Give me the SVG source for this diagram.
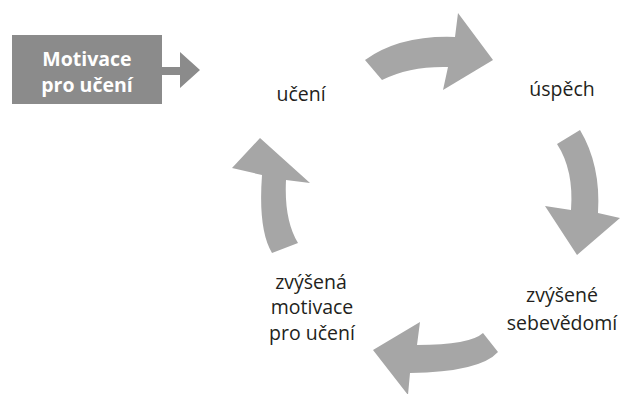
<svg xmlns="http://www.w3.org/2000/svg" width="621" height="394" viewBox="0 0 621 394">
<style>
.lbl{font-family:"Open Sans","Noto Sans","Liberation Sans",sans-serif;font-size:19.5px;fill:#231f20;text-anchor:middle}
.box{fill:#8b8b8b}
.boxtxt{font-family:"Open Sans","Noto Sans","Liberation Sans",sans-serif;font-size:19.5px;font-weight:bold;fill:#ffffff;text-anchor:middle}
.arr{fill:#a6a6a6}
.sarr{fill:#8b8b8b}
</style>
<rect width="621" height="394" fill="#ffffff"/>
<g id="motivace-box">
<rect class="box" x="12" y="35" width="150" height="69"/>
<text class="boxtxt" x="87" y="66">Motivace</text>
<text class="boxtxt" x="87" y="92">pro učení</text>
</g>
<g id="uceni"><text class="lbl" x="301" y="101">učení</text></g>
<g id="uspech"><text class="lbl" x="562" y="96">úspěch</text></g>
<g id="sebevedomi">
<text class="lbl" x="562" y="302">zvýšené</text>
<text class="lbl" x="562" y="330">sebevědomí</text>
</g>
<g id="motivace">
<text class="lbl" x="311" y="289">zvýšená</text>
<text class="lbl" x="312" y="314">motivace</text>
<text class="lbl" x="312" y="340">pro učení</text>
</g>
<g id="connectors">
<path class="sarr" d="M162,67 L180,67 L180,52 L200,70 L180,88 L180,75 L162,75 Z"/>
<path class="arr" d="M365,60 Q400,35 455,37 L458,13 L493,60 L443,90 L448,67 Q410,66 382,80 Z"/>
<path class="arr" d="M580,130 Q601,165 598,213 L620,218 L577,255 L545,206 L571,210 Q574,170 557,144 Z"/>
<path class="arr" d="M483,333 Q470,345 417,345 L420,322 L373,350 L408,395 L410,373 Q480,372 498,352 Z"/>
<path class="arr" d="M262,175 Q258,230 272,253 L298,243 Q284,220 286,180 L310,183 L260,138 L232,168 Z"/>
</g>
</svg>
